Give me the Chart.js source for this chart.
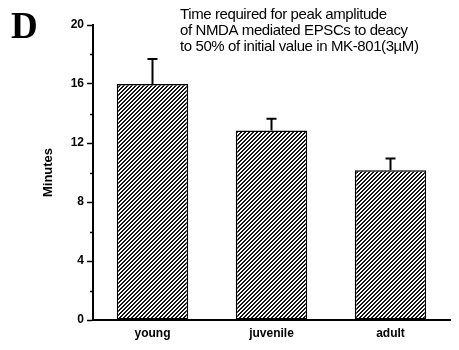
<!DOCTYPE html>
<html>
<head>
<meta charset="utf-8">
<script src="https://cdn.jsdelivr.net/npm/chart.js@4.4.0/dist/chart.umd.min.js"></script>
<style>
  html, body { margin: 0; padding: 0; background: #fff; }
  #wrap { width: 459px; height: 350px; position: relative; }
</style>
</head>
<body>
<div id="wrap"><canvas id="decayChart"></canvas></div>
<script>
// decay times per age group (minutes) and their SEM
const groups = ['young', 'juvenile', 'adult'];
const decayMinutes = [16.0, 12.85, 10.15];
const decayErr = [1.7, 0.8, 0.8];
const yTicks = [0, 4, 8, 12, 16, 20];
const minorTicks = [2, 6, 10, 14, 18];
const titleLines = [
    'Time required for peak amplitude',
    'of NMDA mediated EPSCs to deacy',
    'to 50% of initial value in MK-801(3\u00b5M)'
];

// diagonal hatch fill, like the old line-pattern bars
function makeHatch() {
    const n = 4;
    const c = document.createElement('canvas');
    c.width = n; c.height = n;
    const g = c.getContext('2d');
    const img = g.createImageData(n, n);
    for (let y = 0; y < n; y++) {
        for (let x = 0; x < n; x++) {
            const i = (y * n + x) * 4;
            const dark = ((x + y) % n) < 2;
            const v = dark ? 20 : 255;
            img.data[i] = v; img.data[i + 1] = v; img.data[i + 2] = v; img.data[i + 3] = 255;
        }
    }
    g.putImageData(img, 0, 0);
    return g.createPattern(c, 'repeat');
}

// upward error bars with a small cap
const errorBars = {
    id: 'errorBars',
    afterDatasetsDraw(chart) {
        const ctx = chart.ctx;
        const meta = chart.getDatasetMeta(0);
        const yScale = chart.scales.y;
        ctx.save();
        ctx.strokeStyle = '#000';
        ctx.lineWidth = 2;
        meta.data.forEach((bar, i) => {
            const top = yScale.getPixelForValue(decayMinutes[i] + decayErr[i]);
            ctx.beginPath();
            ctx.moveTo(bar.x, bar.y);
            ctx.lineTo(bar.x, top);
            ctx.moveTo(bar.x - 5, top);
            ctx.lineTo(bar.x + 5, top);
            ctx.stroke();
        });
        ctx.restore();
    }
};

// minor ticks on the y axis, panel letter and the heading text
const decorations = {
    id: 'decorations',
    afterDraw(chart) {
        const ctx = chart.ctx;
        const yScale = chart.scales.y;
        const x0 = chart.chartArea.left;
        ctx.save();
        ctx.strokeStyle = '#000';
        ctx.lineWidth = 1.5;
        minorTicks.forEach(v => {
            const y = Math.round(yScale.getPixelForValue(v)) + 0.5;
            ctx.beginPath();
            ctx.moveTo(x0 - 3, y);
            ctx.lineTo(x0, y);
            ctx.stroke();
        });

        ctx.fillStyle = '#000';
        ctx.font = 'bold 37px "Liberation Serif", "DejaVu Serif", serif';
        ctx.textBaseline = 'alphabetic';
        ctx.fillText('D', 11, 38);

        // heading set a little tight, as in the printed figure
        ctx.font = '15px "Liberation Sans", Arial, sans-serif';
        ctx.letterSpacing = '-0.4px';
        ctx.textBaseline = 'middle';
        titleLines.forEach((line, i) => {
            ctx.fillText(line, 180, 15 + i * 16);
        });
        ctx.restore();
    }
};

const ctx = document.getElementById('decayChart').getContext('2d');
new Chart(ctx, {
    type: 'bar',
    data: {
        labels: groups,
        datasets: [{
            label: 'Minutes',
            data: decayMinutes,
            backgroundColor: makeHatch(),
            borderColor: '#000',
            borderWidth: 1.5,
            borderSkipped: false,
            barPercentage: 0.6,
            categoryPercentage: 1.0
        }]
    },
    options: {
        responsive: true,
        maintainAspectRatio: false,
        animation: false,
        layout: { padding: { left: 0, right: 9, top: 25, bottom: 0 } },
        plugins: {
            legend: { display: false },
            tooltip: { enabled: false }
        },
        scales: {
            x: {
                grid: { display: false, drawTicks: false },
                border: { display: true, color: '#000', width: 2 },
                ticks: {
                    color: '#000',
                    padding: 6,
                    font: { family: '"Liberation Sans", Arial, sans-serif', size: 12, weight: 'bold' }
                },
                afterFit(scale) { scale.height = 30; }
            },
            y: {
                min: 0,
                max: 20,
                afterBuildTicks(scale) {
                    scale.ticks = yTicks.map(v => ({ value: v }));
                },
                grid: {
                    drawOnChartArea: false,
                    drawTicks: true,
                    tickLength: 6,
                    tickWidth: 1.5,
                    tickColor: '#000'
                },
                border: { display: true, color: '#000', width: 2 },
                ticks: {
                    color: '#000',
                    padding: 3,
                    font: { family: '"Liberation Sans", Arial, sans-serif', size: 12, weight: 'bold' }
                },
                title: {
                    display: true,
                    text: 'Minutes',
                    color: '#000',
                    padding: { top: 41, bottom: 0 },
                    font: { family: '"Liberation Sans", Arial, sans-serif', size: 13, weight: 'bold' }
                },
                afterFit(scale) { scale.width = 93; }
            }
        }
    },
    plugins: [errorBars, decorations]
});
</script>
</body>
</html>
